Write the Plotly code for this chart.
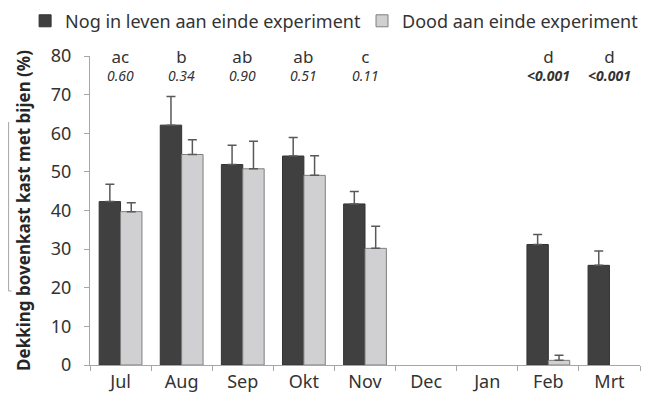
import plotly.graph_objects as go

months = ["Jul", "Aug", "Sep", "Okt", "Nov", "Dec", "Jan", "Feb", "Mrt"]
alive = [42.3, 62.1, 51.9, 54.1, 41.7, None, None, 31.2, 25.8]
alive_err = [4.5, 7.4, 5.0, 4.8, 3.2, None, None, 2.6, 3.7]
dead = [39.7, 54.5, 50.8, 49.1, 30.2, None, None, 1.2, None]
dead_err = [2.3, 3.8, 7.1, 5.1, 5.7, None, None, 1.3, None]
letters = ["ac", "b", "ab", "ab", "c", "", "", "d", "d"]
pvals = ["0.60", "0.34", "0.90", "0.51", "0.11", "", "", "<b>&lt;0.001</b>", "<b>&lt;0.001</b>"]

FONT = "Noto Sans"
TXT = "#333333"

fig = go.Figure()
fig.add_trace(go.Bar(
    x=months, y=alive, name="Nog in leven aan einde experiment", legend="legend",
    marker=dict(color="#404040", line=dict(color="#333333", width=1)),
    error_y=dict(type="data", symmetric=False, array=alive_err,
                 arrayminus=[0]*len(months), color="#595959", thickness=1.5, width=4.5),
))
fig.add_trace(go.Bar(
    x=months, y=dead, name="Dood aan einde experiment", legend="legend2",
    marker=dict(color="#d0d0d2", line=dict(color="#7f7f7f", width=1)),
    error_y=dict(type="data", symmetric=False, array=dead_err,
                 arrayminus=[0]*len(months), color="#595959", thickness=1.5, width=4.5),
))

for m, l, p in zip(months, letters, pvals):
    if l:
        txt = ('<span style="font-size:17px">' + l + '</span><br>'
               '<span style="font-size:14px"><i>' + p + '</i></span>')
        fig.add_annotation(x=m, y=77.6, xref="x", yref="y", text=txt, showarrow=False,
                           yanchor="middle", borderpad=0,
                           font=dict(family=FONT, size=14, color=TXT))

# left edge artifact line
fig.add_shape(type="line", xref="paper", yref="paper", x0=-0.148, x1=-0.148,
              y0=(365-122)/309, y1=(365-291)/309,
              line=dict(color="#a6a6a6", width=1))
fig.add_shape(type="line", xref="paper", yref="paper", x0=-0.148, x1=-0.1425,
              y0=(365-291)/309, y1=(365-291)/309,
              line=dict(color="#a6a6a6", width=1))

legend_common = dict(orientation="h", yanchor="middle", y=1.113, xanchor="left",
                     font=dict(family=FONT, size=18, color=TXT),
                     itemwidth=30, bgcolor="rgba(0,0,0,0)")

fig.update_layout(
    width=648, height=395,
    margin=dict(l=82, r=16, t=48, b=38, autoexpand=False),
    paper_bgcolor="white", plot_bgcolor="white",
    barmode="group", bargap=0.3, bargroupgap=0,
    font=dict(family=FONT, color=TXT),
    showlegend=True,
    legend=dict(x=-0.118, **legend_common),
    legend2=dict(x=0.4946, **legend_common),
)
fig.update_xaxes(
    showline=True, linecolor="#a6a6a6", linewidth=1,
    ticks="outside", tickson="boundaries", ticklen=5, tickcolor="#a6a6a6",
    tickfont=dict(family=FONT, size=18, color=TXT),
    showgrid=False,
)
fig.update_yaxes(
    range=[0, 80], dtick=10, showline=True, linecolor="#a6a6a6", linewidth=1,
    ticks="outside", ticklen=5, tickcolor="#a6a6a6", showgrid=False, zeroline=False,
    ticklabelstandoff=9,
    tickfont=dict(family=FONT, size=18, color=TXT),
    title=dict(text="<b>Dekking bovenkast kast met bijen (%)</b>", standoff=15,
               font=dict(family=FONT, size=17, color="#262626")),
)

fig.write_html("out.html")
